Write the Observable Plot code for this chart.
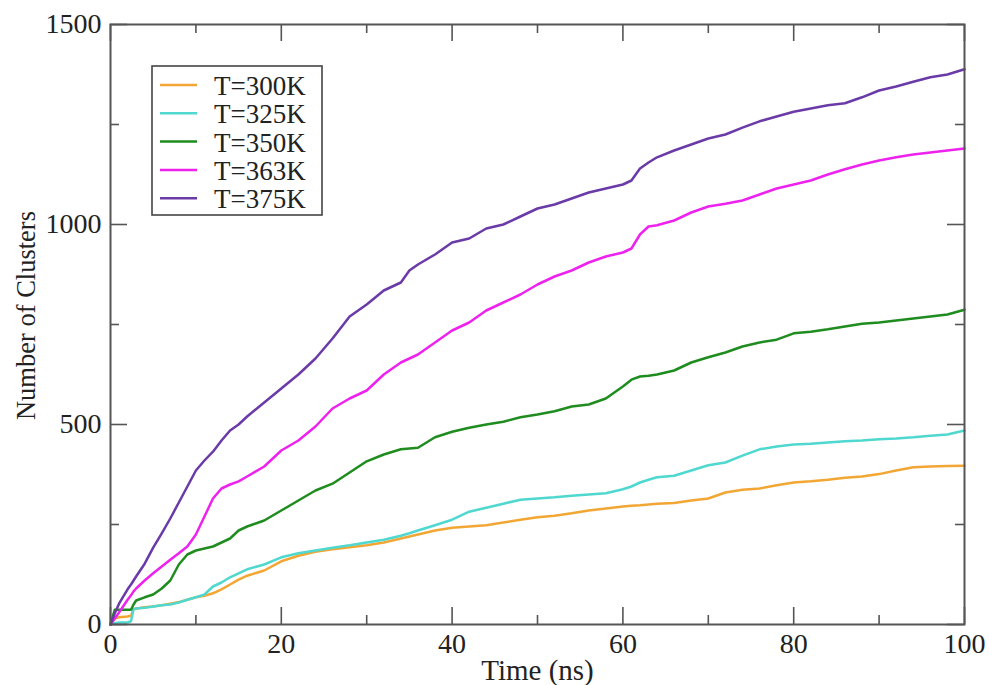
<!DOCTYPE html>
<html><head><meta charset="utf-8">
<script src="https://cdn.jsdelivr.net/npm/d3@7"></script>
<script src="https://cdn.jsdelivr.net/npm/@observablehq/plot@0.6"></script>
<style>body{margin:0;background:#fff} #chart{width:989px;height:685px}</style>
</head><body><div id="chart"></div>
<script>
// ---- data ----
const time = [0,0.5,1,2,2.4,2.7,3,4,5,6,7,8,9,10,11,12,13,14,15,16,18,20,22,24,26,28,30,32,34,35,36,38,40,42,44,46,48,50,52,54,56,58,60,61,62,63,64,66,68,70,72,74,76,78,80,82,84,86,88,90,92,94,96,98,100];
const t300 = [0,15,18,20,22,38,40,43,45,48,52,56,62,68,72,78,88,100,112,122,135,158,172,182,188,193,198,205,215,220,225,235,242,245,248,255,262,268,272,278,285,290,295,297,298,300,302,304,310,315,330,337,340,348,355,358,362,367,370,376,385,393,395,396,397];
const t325 = [0,3,5,5,8,38,40,42,45,48,50,55,62,68,75,95,105,118,128,138,150,168,178,185,192,198,205,212,222,228,235,248,262,282,292,302,312,315,318,322,325,328,338,345,355,362,368,372,385,398,405,422,438,445,450,452,455,458,460,463,465,468,472,475,485];
const t350 = [0,37,37,37,37,50,60,68,75,90,110,150,175,185,190,195,205,215,235,245,260,285,310,335,352,380,408,425,438,440,442,468,482,492,500,507,518,525,533,545,550,565,595,612,620,622,625,635,655,668,680,695,705,712,728,732,738,745,752,755,760,765,770,775,787];
const t363 = [0,15,30,62,73,83,90,110,128,145,162,178,195,225,270,315,340,350,358,370,395,435,460,495,540,565,585,625,655,665,675,705,735,755,785,805,825,850,870,885,905,920,930,940,975,995,998,1010,1030,1045,1052,1060,1075,1090,1100,1110,1125,1138,1150,1160,1168,1175,1180,1185,1190];
const t375 = [0,28,52,88,100,110,120,152,192,228,265,305,345,385,410,432,460,485,500,520,555,590,625,665,715,770,800,835,855,885,900,925,955,965,990,1000,1020,1040,1050,1065,1080,1090,1100,1110,1140,1155,1168,1185,1200,1215,1225,1242,1258,1270,1282,1290,1298,1303,1318,1335,1345,1357,1368,1375,1388];
const seriesNames = ["T=300K","T=325K","T=350K","T=363K","T=375K"];
const seriesValues = [t300, t325, t350, t363, t375];
const seriesColors = ["#f2a735","#4fd8cf","#1f8c1f","#ee22ee","#6a3aa8"];
const xMajor = [0,20,40,60,80,100];
const xMinor = [10,30,50,70,90];
const yMajor = [0,500,1000,1500];
const yMinor = [250,750,1250];
const xLabel = "Time (ns)";
const yLabel = "Number of Clusters";

// ---- table for Plot ----
const rows = [];
seriesNames.forEach((s, k) => time.forEach((t, i) => rows.push({t, v: seriesValues[k][i], s})));

const W = 989, H = 685, mL = 110, mT = 24, mR = 25, mB = 61;
const pw = W - mL - mR, ph = H - mT - mB;
const font = "'Liberation Serif','Times New Roman',serif";
const ink = "#555";
const major = 17, minor = 9;

const plot = Plot.plot({
  width: W, height: H,
  marginLeft: mL, marginTop: mT, marginRight: mR, marginBottom: mB,
  style: {fontFamily: font, background: "white", color: "#222"},
  x: {domain: [0, 100]},
  y: {domain: [0, 1500]},
  color: {domain: seriesNames, range: seriesColors},
  marks: [
    Plot.line(rows, {x: "t", y: "v", z: "s", stroke: "s", strokeWidth: 2.5}),
    // inward ticks, bottom & top
    Plot.tickX(xMajor, {x: d => d, stroke: ink, strokeWidth: 1.6, insetTop: ph - major}),
    Plot.tickX(xMinor, {x: d => d, stroke: ink, strokeWidth: 1.6, insetTop: ph - minor}),
    Plot.tickX(xMajor, {x: d => d, stroke: ink, strokeWidth: 1.6, insetBottom: ph - major}),
    Plot.tickX(xMinor, {x: d => d, stroke: ink, strokeWidth: 1.6, insetBottom: ph - minor}),
    // inward ticks, left & right
    Plot.tickY(yMajor, {y: d => d, stroke: ink, strokeWidth: 1.6, insetRight: pw - major}),
    Plot.tickY(yMinor, {y: d => d, stroke: ink, strokeWidth: 1.6, insetRight: pw - minor}),
    Plot.tickY(yMajor, {y: d => d, stroke: ink, strokeWidth: 1.6, insetLeft: pw - major}),
    Plot.tickY(yMinor, {y: d => d, stroke: ink, strokeWidth: 1.6, insetLeft: pw - minor}),
    Plot.frame({stroke: ink, strokeWidth: 2}),
    Plot.axisX(xMajor, {anchor: "bottom", tickSize: 0, tickPadding: 9, fontSize: 28, tickFormat: d => String(d), label: null}),
    Plot.axisY(yMajor, {anchor: "left", tickSize: 0, tickPadding: 9, fontSize: 28, tickFormat: d => String(d), label: null}),
    Plot.text([xLabel], {text: d => d, frameAnchor: "bottom", textAnchor: "middle", dy: 55, lineAnchor: "bottom", fontSize: 29, fill: "#222"}),
    Plot.text([yLabel], {text: d => d, frameAnchor: "left", textAnchor: "middle", dx: -76, dy: -9, rotate: -90, lineAnchor: "bottom", fontSize: 26.5, fill: "#222"})
  ]
});

// ---- legend box inside the plot ----
const svg = d3.select(plot);
const lg = svg.append("g").attr("font-family", font).attr("text-anchor", "start");
lg.append("rect").attr("x", 152).attr("y", 66).attr("width", 170).attr("height", 149)
  .attr("fill", "white").attr("stroke", "#444").attr("stroke-width", 1.6);
seriesNames.forEach((s, i) => {
  const y = 85 + i * 28.3;
  lg.append("line").attr("x1", 160).attr("x2", 197).attr("y1", y).attr("y2", y)
    .attr("stroke", seriesColors[i]).attr("stroke-width", 2.5);
  lg.append("text").attr("x", 214).attr("y", y + 10).attr("text-anchor", "start")
    .attr("font-size", 27).attr("fill", "#222").text(s);
});

document.getElementById("chart").appendChild(plot);
</script>
</body></html>
